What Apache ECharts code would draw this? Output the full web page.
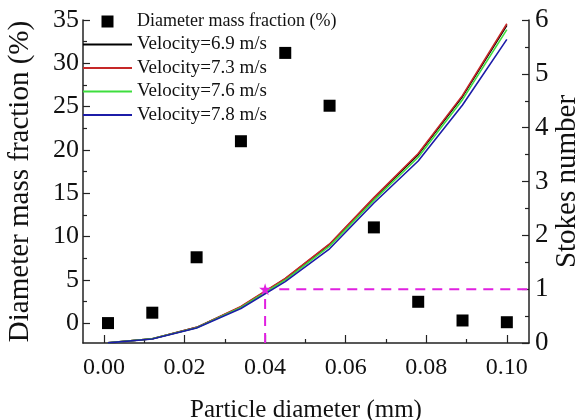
<!DOCTYPE html>
<html>
<head>
<meta charset="utf-8">
<script src="https://cdn.jsdelivr.net/npm/echarts@6/dist/echarts.min.js"></script>
<style>html,body{margin:0;padding:0;background:#fff}#c{width:580px;height:420px}</style>
</head>
<body>
<div id="c"></div>
<script>
// ---- data ----
const diameters = [0.001, 0.012, 0.023, 0.034, 0.045, 0.056, 0.067, 0.078, 0.089, 0.100];
const massFraction = [0.0, 1.2, 7.6, 21.0, 31.2, 25.1, 11.05, 2.46, 0.3, 0.1];
const stokes69 = [0.002, 0.08, 0.29, 0.67, 1.19, 1.83, 2.69, 3.50, 4.58, 5.90];
const stokes73 = [0.002, 0.08, 0.29, 0.68, 1.20, 1.84, 2.70, 3.52, 4.60, 5.93];
const stokes76 = [0.002, 0.078, 0.285, 0.66, 1.17, 1.80, 2.65, 3.45, 4.52, 5.82];
const stokes78 = [0.002, 0.075, 0.28, 0.64, 1.14, 1.75, 2.60, 3.38, 4.42, 5.64];
const critDiameter = 0.04;
const critStokes = 1;
const xMajorTicks = [0, 0.02, 0.04, 0.06, 0.08, 0.10];
const xMinorTicks = [0.01, 0.03, 0.05, 0.07, 0.09];
const yLeftMajor = [0, 5, 10, 15, 20, 25, 30, 35];
const yLeftMinor = [2.5, 7.5, 12.5, 17.5, 22.5, 27.5, 32.5];
const seriesNames = ['Diameter mass fraction (%)', 'Velocity=6.9 m/s', 'Velocity=7.3 m/s', 'Velocity=7.6 m/s', 'Velocity=7.8 m/s'];

const X_MIN = -0.0052, X_MAX = 0.1055, YL_MIN = -2.3, YL_MAX = 35;
const FONT = "'Liberation Serif','Times New Roman',serif";
const LINE_ICON = 'path://M0,0H49V1.8H0Z';
const axLine = (show) => ({ show, onZero: false, lineStyle: { color: '#222', width: 1.5 } });

const pair = (xs, ys) => xs.map((x, i) => [x, ys[i]]);
const lineSeries = (name, ys, color) => ({
  name, type: 'line', xAxisIndex: 0, yAxisIndex: 1, data: pair(diameters, ys),
  symbol: 'none', showSymbol: false, lineStyle: { color, width: 1.6 }, itemStyle: { color }, z: 3
});

const chart = echarts.init(document.getElementById('c'), null, { renderer: 'canvas' });
chart.setOption({
  animation: false,
  backgroundColor: '#fff',
  textStyle: { fontFamily: FONT, color: '#111' },
  grid: { left: 83, right: 51, top: 20, bottom: 77, containLabel: false, outerBoundsMode: 'none' },
  legend: {
    orient: 'vertical', left: 83, top: 12.5, padding: 0, itemWidth: 49, itemHeight: 12, itemGap: 4.5,
    textStyle: { fontFamily: FONT, fontSize: 19, color: '#111' },
    data: [
      { name: seriesNames[0], icon: 'path://M0,0H10V10H0Z', textStyle: { fontSize: 18 } },
      { name: seriesNames[1], icon: LINE_ICON },
      { name: seriesNames[2], icon: LINE_ICON },
      { name: seriesNames[3], icon: LINE_ICON },
      { name: seriesNames[4], icon: LINE_ICON }
    ]
  },
  xAxis: [
    {
      type: 'value', position: 'bottom', min: X_MIN, max: X_MAX,
      axisLine: axLine(true), splitLine: { show: false },
      axisTick: { inside: true, length: 8, customValues: xMajorTicks, lineStyle: { color: '#222', width: 1.2 } },
      axisLabel: { customValues: xMajorTicks, formatter: v => v.toFixed(2), fontSize: 24, fontFamily: FONT, color: '#111', margin: 13 },
      name: 'Particle diameter (mm)', nameLocation: 'middle', nameGap: 55, nameMoveOverlap: false,
      nameTextStyle: { fontSize: 25, fontFamily: FONT, color: '#111' }
    },
    {
      type: 'value', position: 'bottom', min: X_MIN, max: X_MAX,
      axisLine: axLine(false), splitLine: { show: false }, axisLabel: { show: false },
      axisTick: { inside: true, length: 4, customValues: xMinorTicks, lineStyle: { color: '#222', width: 1.2 } }
    }
  ],
  yAxis: [
    {
      type: 'value', position: 'left', min: YL_MIN, max: YL_MAX,
      axisLine: axLine(true), splitLine: { show: false },
      axisTick: { inside: true, length: 7, customValues: yLeftMajor, lineStyle: { color: '#222', width: 1.2 } },
      axisLabel: { customValues: yLeftMajor, fontSize: 26, fontFamily: FONT, color: '#111', margin: 4 },
      name: 'Diameter mass fraction (%)', nameLocation: 'middle', nameGap: 48, nameRotate: 90, nameMoveOverlap: false,
      nameTextStyle: { fontSize: 29, fontFamily: FONT, color: '#111' }
    },
    {
      type: 'value', position: 'right', min: 0, max: 6, interval: 1,
      axisLine: axLine(true), splitLine: { show: false },
      axisTick: { inside: true, length: 7, lineStyle: { color: '#222', width: 1.2 } },
      minorTick: { show: true, splitNumber: 2, length: 4, lineStyle: { color: '#222', width: 1.2 } },
      axisLabel: { fontSize: 27, fontFamily: FONT, color: '#111', margin: 6 },
      name: 'Stokes number', nameLocation: 'middle', nameGap: 24, nameRotate: 90, nameMoveOverlap: false,
      nameTextStyle: { fontSize: 29, fontFamily: FONT, color: '#111' }
    },
    {
      type: 'value', position: 'left', min: YL_MIN, max: YL_MAX,
      axisLine: axLine(false), splitLine: { show: false }, axisLabel: { show: false },
      axisTick: { inside: true, length: 4, customValues: yLeftMinor, lineStyle: { color: '#222', width: 1.2 } }
    }
  ],
  series: [
    {
      name: seriesNames[0], type: 'scatter', xAxisIndex: 0, yAxisIndex: 0,
      data: pair(diameters, massFraction), symbol: 'rect', symbolSize: 12,
      itemStyle: { color: '#000', opacity: 1 }, z: 4
    },
    lineSeries(seriesNames[1], stokes69, '#000000'),
    lineSeries(seriesNames[2], stokes73, '#c62828'),
    lineSeries(seriesNames[3], stokes76, '#3ede3e'),
    lineSeries(seriesNames[4], stokes78, '#1c1ca8'),
    {
      name: 'crit', type: 'line', xAxisIndex: 0, yAxisIndex: 1,
      data: [[critDiameter, 0], [critDiameter, critStokes], [X_MAX, critStokes]],
      symbol: 'none', lineStyle: { color: '#e020e0', width: 2, type: [10, 7] }, z: 2
    },
    {
      name: 'critPoint', type: 'scatter', xAxisIndex: 0, yAxisIndex: 1,
      data: [[critDiameter, critStokes]],
      symbol: 'path://M50,0 L61,35 L98,35 L68,57 L79,91 L50,70 L21,91 L32,57 L2,35 L39,35 Z',
      symbolSize: 12, itemStyle: { color: '#e020e0', opacity: 1 }, z: 5
    }
  ]
});
</script>
</body>
</html>
